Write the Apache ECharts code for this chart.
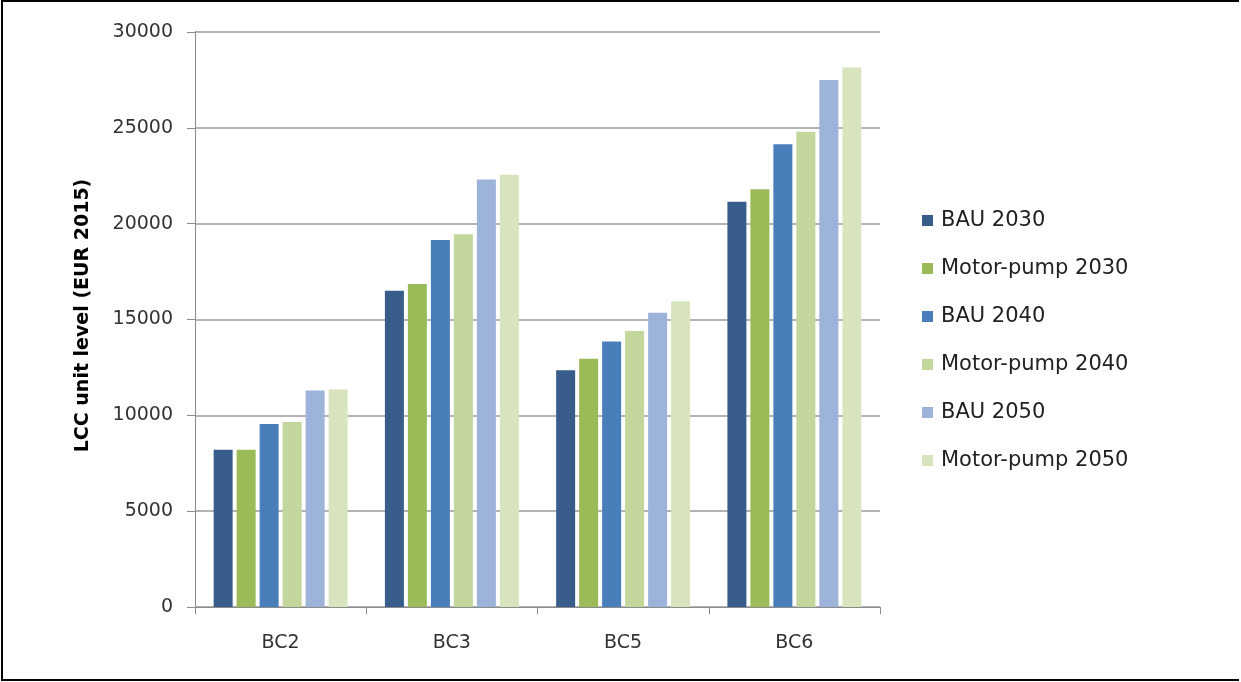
<!DOCTYPE html>
<html>
<head>
<meta charset="utf-8">
<script src="https://cdn.jsdelivr.net/npm/echarts@6/dist/echarts.min.js"></script>
<style>
  html, body { margin: 0; padding: 0; background: #fff; }
  #frame { position: absolute; left: 1px; top: 0px; width: 1236px; height: 677px; border: 2px solid #000; border-right: none; }
  #chart { position: absolute; left: 0; top: 0; width: 1241px; height: 682px; }
</style>
</head>
<body>
<div id="frame"></div>
<div id="chart"></div>
<script>
// categories along the x axis
const categories = ['BC2', 'BC3', 'BC5', 'BC6'];

// series names (legend order)
const seriesNames = ['BAU 2030', 'Motor-pump 2030', 'BAU 2040', 'Motor-pump 2040', 'BAU 2050', 'Motor-pump 2050'];

// LCC unit level values
const bau2030 = [8200, 16500, 12350, 21150];
const motorPump2030 = [8200, 16850, 12950, 21800];
const bau2040 = [9550, 19150, 13850, 24150];
const motorPump2040 = [9650, 19450, 14400, 24800];
const bau2050 = [11300, 22300, 15350, 27500];
const motorPump2050 = [11350, 22550, 15950, 28150];

const values = [bau2030, motorPump2030, bau2040, motorPump2040, bau2050, motorPump2050];
const colors = ['#385d8a', '#9bbb59', '#4a7ebb', '#c3d69b', '#9db3d9', '#d7e4bd'];

const chart = echarts.init(document.getElementById('chart'));

let option = {
    backgroundColor: 'transparent',
    textStyle: { fontFamily: 'DejaVu Sans' },
    grid: { left: 195, top: 32, right: 361, bottom: 75, containLabel: false },
    legend: {
        orient: 'vertical',
        left: 917,
        top: 205,
        itemWidth: 11,
        itemHeight: 11,
        itemGap: 27,
        icon: 'rect',
        textStyle: { fontSize: 21, color: '#222', fontFamily: 'DejaVu Sans', padding: [0, 0, 0, 3] },
        data: seriesNames
    },
    xAxis: {
        type: 'category',
        data: categories,
        axisLine: { lineStyle: { color: '#8c8c8c', width: 1 } },
        axisTick: { show: true, length: 7, lineStyle: { color: '#8c8c8c' } },
        axisLabel: { fontSize: 19, color: '#333', margin: 27 }
    },
    yAxis: {
        type: 'value',
        min: 0,
        max: 30000,
        interval: 5000,
        name: 'LCC unit level (EUR 2015)',
        nameLocation: 'middle',
        nameRotate: 90,
        nameGap: 102,
        nameTextStyle: { fontSize: 19, fontWeight: 'bold', color: '#000', fontFamily: 'DejaVu Sans', padding: [0, 0, 0, 8] },
        axisLine: { show: true, lineStyle: { color: '#8c8c8c', width: 1 } },
        axisTick: { show: true, length: 8, lineStyle: { color: '#8c8c8c' } },
        axisLabel: { fontSize: 19, color: '#333', margin: 22, formatter: function (v) { return String(v); } },
        splitLine: { lineStyle: { color: '#9a9a9a', width: 1.5 } }
    },
    series: seriesNames.map(function (name, i) {
        return {
            name: name,
            type: 'bar',
            data: values[i],
            barWidth: 19,
            barGap: '21%',
            itemStyle: { color: colors[i] }
        };
    })
};

chart.setOption(option);
</script>
</body>
</html>
